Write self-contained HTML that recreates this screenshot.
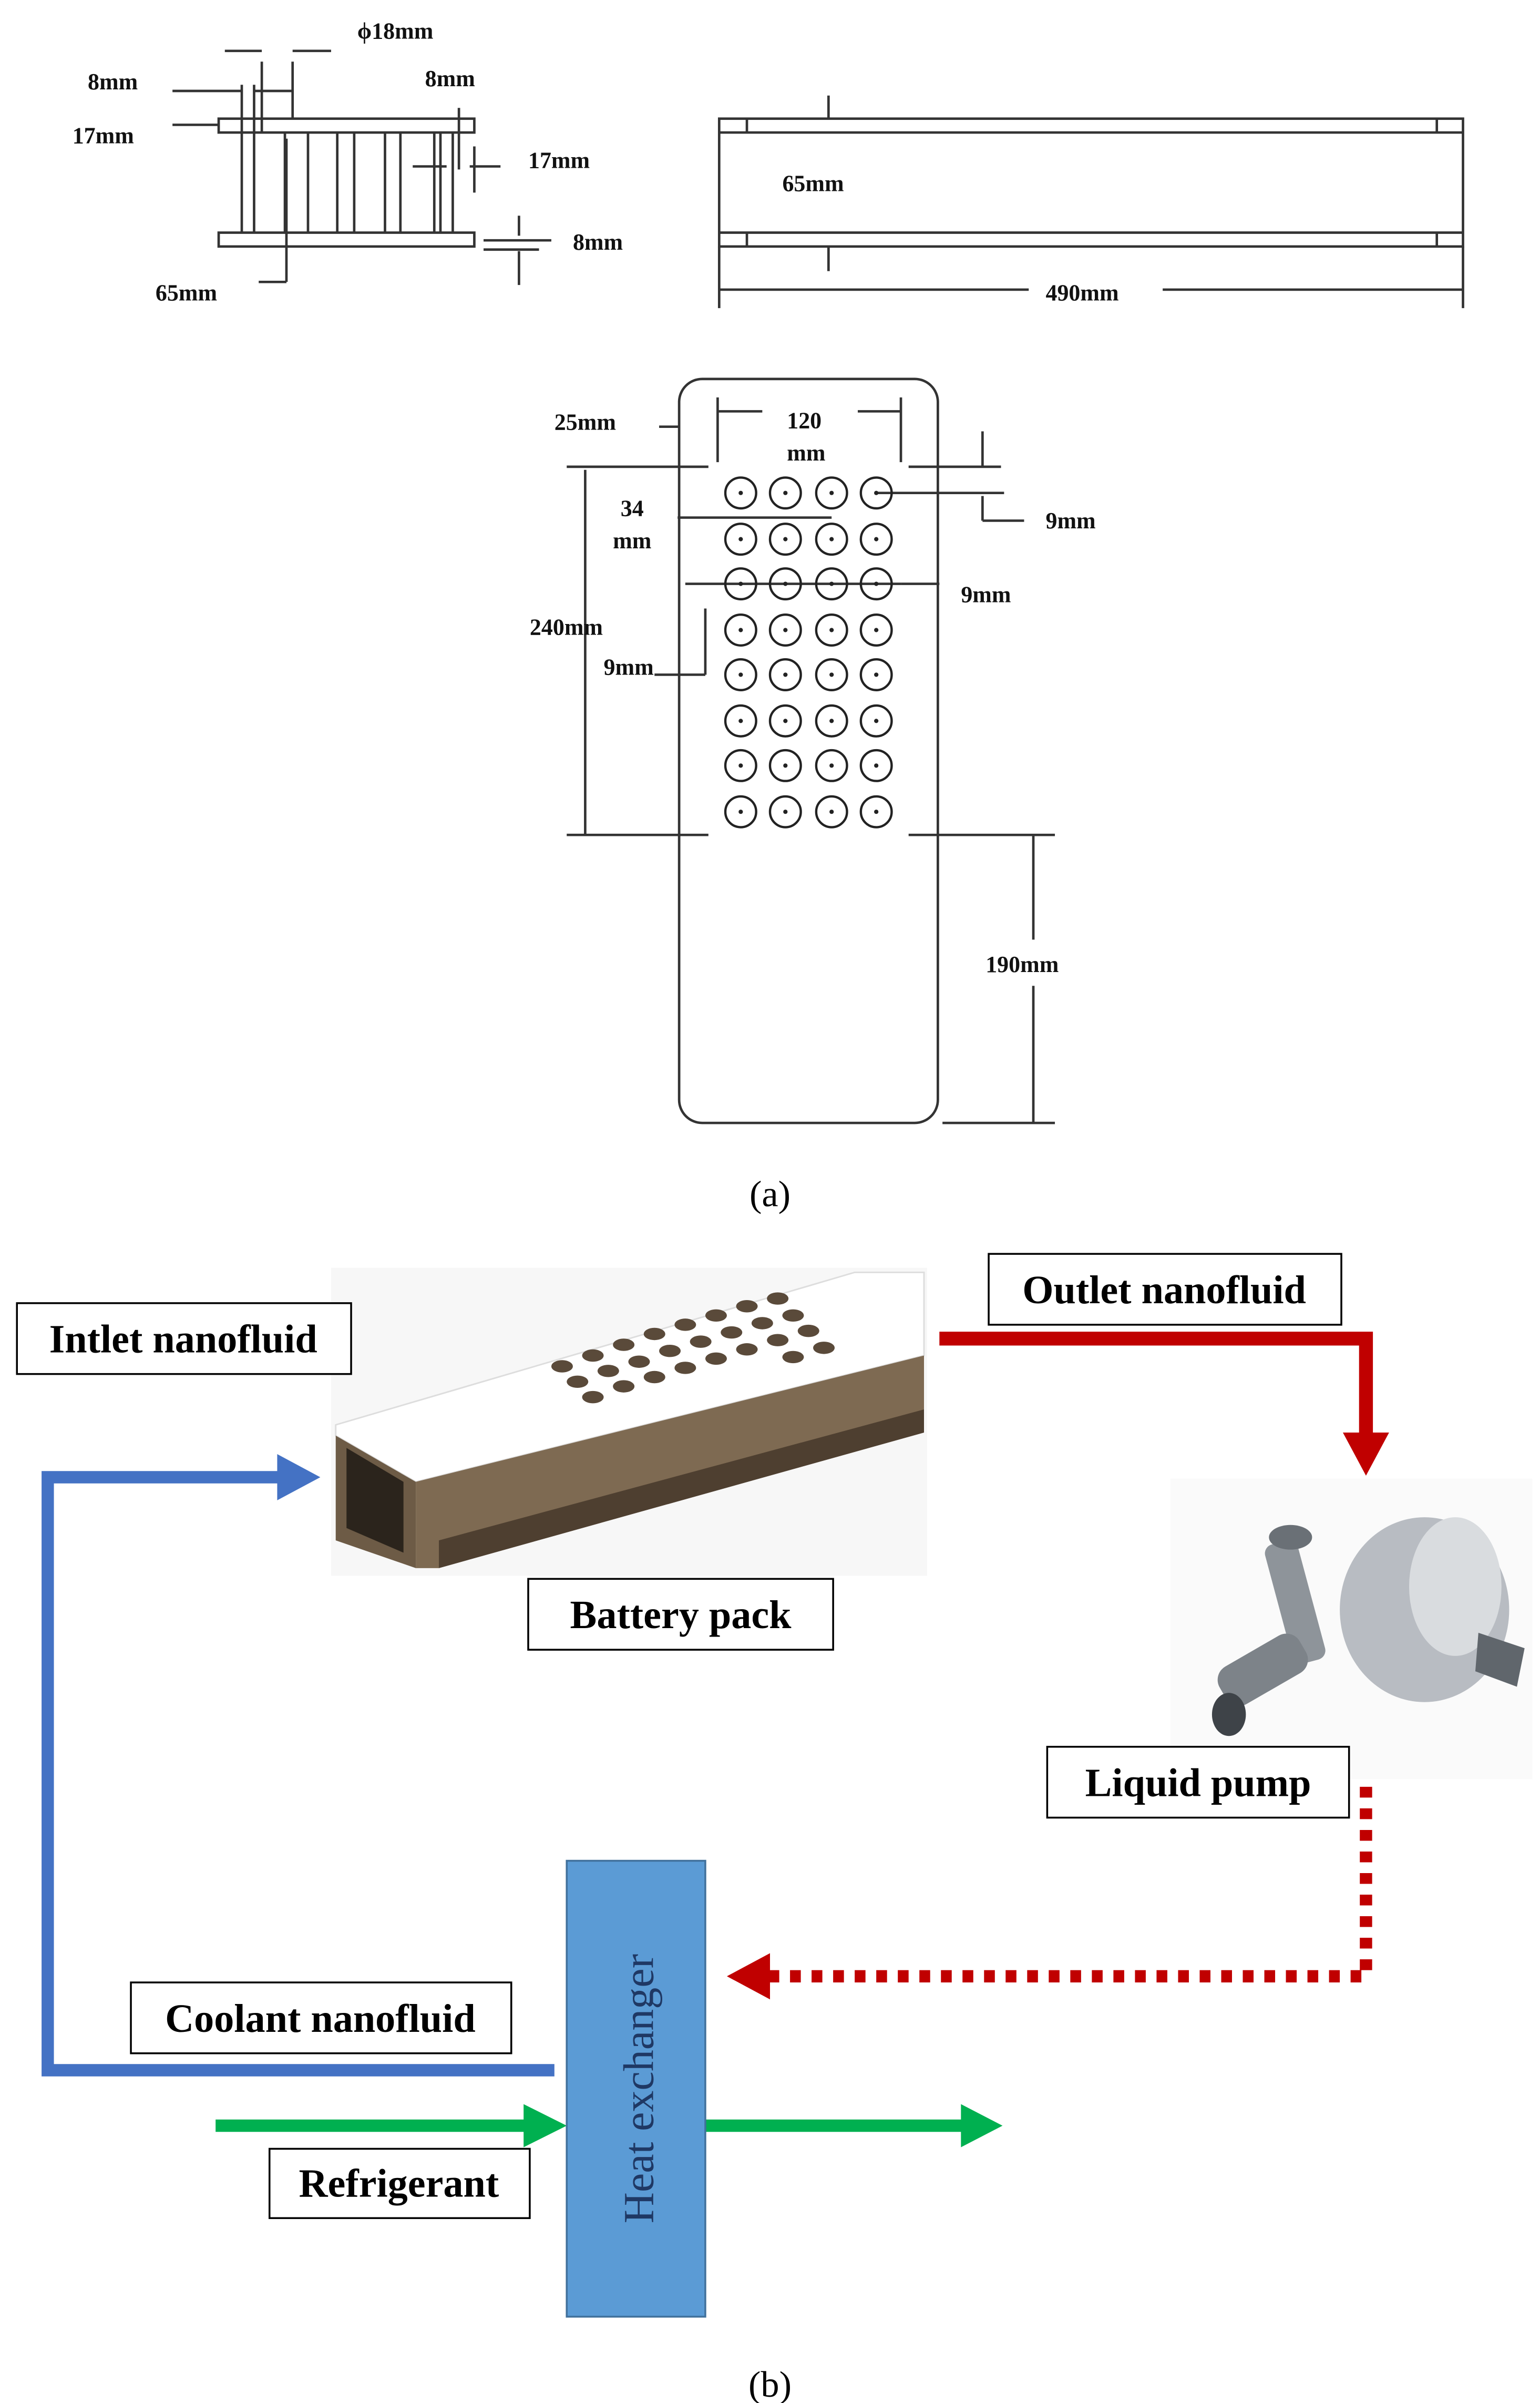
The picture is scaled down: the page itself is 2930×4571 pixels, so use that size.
<!DOCTYPE html>
<html><head><meta charset="utf-8"><style>
html,body{margin:0;padding:0;background:#fff;}
svg{display:block;}
text{font-family:"Liberation Serif",serif;}
.d{font-size:15px;font-weight:bold;fill:#111;}
.l{font-size:26px;font-weight:bold;fill:#000;}
</style></head><body>
<svg width="2930" height="4571" viewBox="0 0 1000 1560" xmlns="http://www.w3.org/2000/svg">
<rect width="1000" height="1560" fill="#fff"/>
<g stroke="#333" stroke-width="1.6" fill="none">
<!-- cross section -->
<rect x="142" y="77" width="166" height="9"/>
<rect x="142" y="151" width="166" height="9"/>
<line x1="157" y1="86" x2="157" y2="151"/><line x1="165" y1="86" x2="165" y2="151"/>
<line x1="286" y1="86" x2="286" y2="151"/><line x1="294" y1="86" x2="294" y2="151"/>
<line x1="185" y1="86" x2="185" y2="151"/><line x1="200" y1="86" x2="200" y2="151"/><line x1="219" y1="86" x2="219" y2="151"/><line x1="230" y1="86" x2="230" y2="151"/><line x1="250" y1="86" x2="250" y2="151"/><line x1="260" y1="86" x2="260" y2="151"/><line x1="282" y1="86" x2="282" y2="151"/>
<line x1="170" y1="40" x2="170" y2="86"/><line x1="190" y1="40" x2="190" y2="77"/>
<line x1="146" y1="33" x2="170" y2="33"/><line x1="190" y1="33" x2="215" y2="33"/>
<line x1="157" y1="55" x2="157" y2="86"/><line x1="165" y1="55" x2="165" y2="86"/>
<line x1="112" y1="59" x2="157" y2="59"/><line x1="165" y1="59" x2="190" y2="59"/>
<line x1="112" y1="81" x2="142" y2="81"/>
<line x1="186" y1="90" x2="186" y2="183"/><line x1="168" y1="183" x2="186" y2="183"/>
<line x1="298" y1="70" x2="298" y2="110"/><line x1="308" y1="95" x2="308" y2="125"/>
<line x1="268" y1="108" x2="290" y2="108"/><line x1="305" y1="108" x2="325" y2="108"/>
<line x1="314" y1="156" x2="358" y2="156"/><line x1="314" y1="162" x2="350" y2="162"/>
<line x1="337" y1="140" x2="337" y2="153"/><line x1="337" y1="163" x2="337" y2="185"/>
<!-- side view -->
<rect x="467" y="77" width="483" height="83"/>
<line x1="467" y1="86" x2="950" y2="86"/><line x1="467" y1="151" x2="950" y2="151"/>
<line x1="485" y1="77" x2="485" y2="86"/><line x1="933" y1="77" x2="933" y2="86"/>
<line x1="485" y1="151" x2="485" y2="160"/><line x1="933" y1="151" x2="933" y2="160"/>
<line x1="538" y1="62" x2="538" y2="77"/><line x1="538" y1="160" x2="538" y2="176"/>
<line x1="467" y1="160" x2="467" y2="200"/><line x1="950" y1="160" x2="950" y2="200"/>
<line x1="467" y1="188" x2="668" y2="188"/><line x1="755" y1="188" x2="950" y2="188"/>
<!-- plate -->
<rect x="441" y="246" width="168" height="483" rx="15"/>
<line x1="368" y1="303" x2="460" y2="303"/><line x1="590" y1="303" x2="650" y2="303"/>
<line x1="368" y1="542" x2="460" y2="542"/><line x1="590" y1="542" x2="685" y2="542"/>
<line x1="612" y1="729" x2="685" y2="729"/>
<line x1="380" y1="305" x2="380" y2="542"/>
<line x1="671" y1="542" x2="671" y2="610"/><line x1="671" y1="640" x2="671" y2="729"/>
<line x1="466" y1="258" x2="466" y2="300"/><line x1="585" y1="258" x2="585" y2="300"/>
<line x1="466" y1="267" x2="495" y2="267"/><line x1="557" y1="267" x2="585" y2="267"/>
<line x1="428" y1="277" x2="441" y2="277"/>
<line x1="638" y1="280" x2="638" y2="303"/><line x1="638" y1="322" x2="638" y2="338"/><line x1="638" y1="338" x2="665" y2="338"/>
<line x1="569" y1="320" x2="652" y2="320"/>
<line x1="440" y1="336" x2="540" y2="336"/>
<line x1="445" y1="379" x2="585" y2="379"/><line x1="585" y1="379" x2="610" y2="379"/>
<line x1="458" y1="395" x2="458" y2="438"/><line x1="425" y1="438" x2="458" y2="438"/>
</g>
<g stroke="#222" stroke-width="1.5" fill="none">
<g id="row">
<circle cx="481" cy="320" r="10"/><circle cx="510" cy="320" r="10"/><circle cx="540" cy="320" r="10"/><circle cx="569" cy="320" r="10"/>
</g>
<use href="#row" y="30"/><use href="#row" y="59"/><use href="#row" y="89"/><use href="#row" y="118"/><use href="#row" y="148"/><use href="#row" y="177"/><use href="#row" y="207"/>
</g>
<g fill="#222">
<g id="dr"><circle cx="481" cy="320" r="1.4"/><circle cx="510" cy="320" r="1.4"/><circle cx="540" cy="320" r="1.4"/><circle cx="569" cy="320" r="1.4"/></g>
<use href="#dr" y="30"/><use href="#dr" y="59"/><use href="#dr" y="89"/><use href="#dr" y="118"/><use href="#dr" y="148"/><use href="#dr" y="177"/><use href="#dr" y="207"/>
</g>
<g class="d">
<text x="232" y="25">ϕ18mm</text><text x="57" y="58">8mm</text><text x="276" y="56">8mm</text>
<text x="47" y="93">17mm</text><text x="343" y="109">17mm</text><text x="372" y="162">8mm</text>
<text x="101" y="195">65mm</text><text x="508" y="124">65mm</text><text x="679" y="195">490mm</text>
<text x="360" y="279">25mm</text><text x="511" y="278">120</text><text x="511" y="299">mm</text>
<text x="403" y="335">34</text><text x="398" y="356">mm</text><text x="344" y="412">240mm</text>
<text x="392" y="438">9mm</text><text x="640" y="631">190mm</text><text x="679" y="343">9mm</text><text x="624" y="391">9mm</text>
</g>
<text x="500" y="783" text-anchor="middle" style="font-size:24px">(a)</text>

<!-- battery pack -->
<rect x="215" y="823" width="387" height="200" fill="#f7f7f7"/>
<polygon points="218,925 555,826 600,826 600,880 270,962 218,932" fill="#fff" stroke="#ddd"/>
<polygon points="270,962 600,880 600,930 285,1018 270,1018" fill="#7e6a52"/>
<polygon points="285,1000 600,915 600,930 285,1018" fill="#4e3f30"/>
<polygon points="218,932 270,962 270,1018 218,1000" fill="#6d5b46"/>
<polygon points="225,940 262,962 262,1008 225,992" fill="#2b241c"/>
<g fill="#5a4a3a">
<ellipse cx="365" cy="887" rx="7" ry="4"/><ellipse cx="385" cy="880" rx="7" ry="4"/><ellipse cx="405" cy="873" rx="7" ry="4"/><ellipse cx="425" cy="866" rx="7" ry="4"/><ellipse cx="445" cy="860" rx="7" ry="4"/><ellipse cx="465" cy="854" rx="7" ry="4"/><ellipse cx="485" cy="848" rx="7" ry="4"/><ellipse cx="505" cy="843" rx="7" ry="4"/>
<ellipse cx="375" cy="897" rx="7" ry="4"/><ellipse cx="395" cy="890" rx="7" ry="4"/><ellipse cx="415" cy="884" rx="7" ry="4"/><ellipse cx="435" cy="877" rx="7" ry="4"/><ellipse cx="455" cy="871" rx="7" ry="4"/><ellipse cx="475" cy="865" rx="7" ry="4"/><ellipse cx="495" cy="859" rx="7" ry="4"/><ellipse cx="515" cy="854" rx="7" ry="4"/>
<ellipse cx="385" cy="907" rx="7" ry="4"/><ellipse cx="405" cy="900" rx="7" ry="4"/><ellipse cx="425" cy="894" rx="7" ry="4"/><ellipse cx="445" cy="888" rx="7" ry="4"/><ellipse cx="465" cy="882" rx="7" ry="4"/><ellipse cx="485" cy="876" rx="7" ry="4"/><ellipse cx="505" cy="870" rx="7" ry="4"/><ellipse cx="525" cy="864" rx="7" ry="4"/>
<ellipse cx="515" cy="881" rx="7" ry="4"/><ellipse cx="535" cy="875" rx="7" ry="4"/>
</g>
<!-- pump -->
<rect x="760" y="960" width="235" height="195" fill="#fafafa"/>
<ellipse cx="925" cy="1045" rx="55" ry="60" fill="#b8bcc2"/>
<ellipse cx="945" cy="1030" rx="30" ry="45" fill="#d9dcdf"/>
<rect x="830" y="1000" width="22" height="80" rx="6" fill="#8e949a" transform="rotate(-15 841 1040)"/>
<ellipse cx="838" cy="998" rx="14" ry="8" fill="#6a7076"/>
<rect x="790" y="1070" width="60" height="28" rx="10" fill="#7d8389" transform="rotate(-30 820 1084)"/>
<ellipse cx="798" cy="1113" rx="11" ry="14" fill="#3e4348"/>
<polygon points="960,1060 990,1070 985,1095 958,1085" fill="#60666c"/>
<!-- arrows -->
<polyline points="610,869 887,869 887,932" fill="none" stroke="#c00000" stroke-width="9"/>
<polygon points="872,930 902,930 887,958" fill="#c00000"/>
<polyline points="887,1160 887,1283 500,1283" fill="none" stroke="#c00000" stroke-width="8" stroke-dasharray="7,7"/>
<polygon points="500,1268 500,1298 472,1283" fill="#c00000"/>
<polyline points="360,1344 31,1344 31,959 182,959" fill="none" stroke="#4472c4" stroke-width="8"/>
<polygon points="180,944 180,974 208,959" fill="#4472c4"/>
<line x1="140" y1="1380" x2="342" y2="1380" stroke="#00b050" stroke-width="8"/>
<polygon points="340,1366 340,1394 368,1380" fill="#00b050"/>
<line x1="458" y1="1380" x2="626" y2="1380" stroke="#00b050" stroke-width="8"/>
<polygon points="624,1366 624,1394 651,1380" fill="#00b050"/>
<rect x="368" y="1208" width="90" height="296" fill="#5b9bd5" stroke="#41719c" stroke-width="1.2"/>
<text transform="translate(424,1356) rotate(-90)" text-anchor="middle" style="font-size:28px;fill:#1f3864">Heat exchanger</text>
<!-- labels -->
<g fill="#fff" stroke="#000" stroke-width="1.2">
<rect x="11" y="846" width="217" height="46"/><rect x="642" y="814" width="229" height="46"/>
<rect x="343" y="1025" width="198" height="46"/><rect x="680" y="1134" width="196" height="46"/>
<rect x="85" y="1287" width="247" height="46"/><rect x="175" y="1395" width="169" height="45"/>
</g>
<g class="l" text-anchor="middle">
<text x="119" y="878">Intlet nanofluid</text><text x="756" y="846">Outlet nanofluid</text>
<text x="442" y="1057">Battery pack</text><text x="778" y="1166">Liquid pump</text>
<text x="208" y="1319">Coolant nanofluid</text><text x="259" y="1426">Refrigerant</text>
</g>
<text x="500" y="1556" text-anchor="middle" style="font-size:24px">(b)</text>
</svg>
</body></html>
